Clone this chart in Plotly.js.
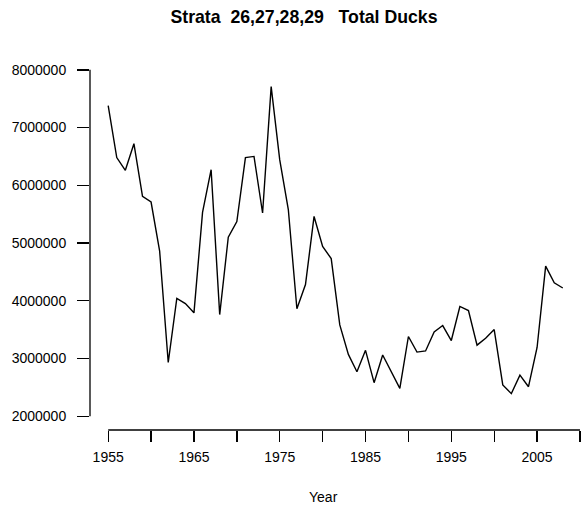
<!DOCTYPE html>
<html>
<head>
<meta charset="utf-8">
<script src="https://cdn.plot.ly/plotly-3.0.1.min.js"></script>
<style>html,body{margin:0;padding:0;background:#fff;}#chart{width:581px;height:512px;}</style>
</head>
<body>
<div id="chart"></div>
<script>
var years = [1955,1956,1957,1958,1959,1960,1961,1962,1963,1964,1965,1966,1967,1968,1969,1970,1971,1972,1973,1974,1975,1976,1977,1978,1979,1980,1981,1982,1983,1984,1985,1986,1987,1988,1989,1990,1991,1992,1993,1994,1995,1996,1997,1998,1999,2000,2001,2002,2003,2004,2005,2006,2007,2008];
var totalDucks = [7380000,6480000,6260000,6720000,5810000,5710000,4860000,2930000,4040000,3950000,3790000,5530000,6270000,3760000,5100000,5370000,6480000,6500000,5520000,7710000,6440000,5580000,3860000,4280000,5460000,4940000,4730000,3580000,3070000,2770000,3140000,2580000,3060000,2760000,2480000,3380000,3110000,3130000,3460000,3570000,3310000,3900000,3830000,3230000,3350000,3500000,2540000,2390000,2710000,2510000,3190000,4600000,4310000,4220000];
var xTickVals = [1955,1960,1965,1970,1975,1980,1985,1990,1995,2000,2005,2010];
var xTickText = ['1955','','1965','','1975','','1985','','1995','','2005',''];
var yTickVals = [2000000,3000000,4000000,5000000,6000000,7000000,8000000];
var yTickText = ['2000000','3000000','4000000','5000000','6000000','7000000','8000000'];

var font = "Arial, 'Liberation Sans', Helvetica, sans-serif";
var trace = {
  x: years, y: totalDucks, type: 'scatter', mode: 'lines',
  line: {color: '#000000', width: 1.4}, hoverinfo: 'x+y'
};
var layout = {
  width: 581, height: 512,
  margin: {l: 90, r: 0, t: 56, b: 82},
  paper_bgcolor: '#ffffff', plot_bgcolor: '#ffffff',
  showlegend: false,
  font: {family: font, color: '#000000', size: 13},
  title: {text: '<b>Strata  26,27,28,29   Total Ducks</b>', font: {family: font, size: 17.7, color: '#000000'},
          x: 304/581, xanchor: 'center', xref: 'container', y: 1 - 17/512, yanchor: 'middle', yref: 'container'},
  xaxis: {
    range: [1952.88, 2010.12], showgrid: false, zeroline: false, showline: false,
    tickmode: 'array', tickvals: xTickVals, ticktext: xTickText,
    ticks: 'outside', ticklen: 11, tickwidth: 1.3, tickcolor: '#000000',
    ticklabelstandoff: 3, tickfont: {family: font, size: 14, color: '#000000'}
  },
  yaxis: {
    range: [1760000, 8240000], showgrid: false, zeroline: false, showline: false,
    tickmode: 'array', tickvals: yTickVals, ticktext: yTickText,
    ticks: 'outside', ticklen: 12, tickwidth: 1.3, tickcolor: '#000000',
    ticklabelstandoff: 8, tickfont: {family: font, size: 14, color: '#000000'}
  },
  shapes: [
    {type: 'line', xref: 'paper', yref: 'y', x0: 0, x1: 0, y0: yTickVals[0], y1: yTickVals[yTickVals.length-1], line: {color: '#000000', width: 1.3}},
    {type: 'line', xref: 'x', yref: 'paper', x0: xTickVals[0], x1: xTickVals[xTickVals.length-1], y0: 0, y1: 0, line: {color: '#000000', width: 1.3}}
  ],
  annotations: [
    {text: 'Year', xref: 'paper', yref: 'paper', x: (323-90)/491, y: -(497-430)/374, xanchor: 'center', yanchor: 'middle', showarrow: false, font: {family: font, size: 14, color: '#000000'}}
  ]
};
Plotly.newPlot('chart', [trace], layout, {displayModeBar: false, staticPlot: true});
</script>
</body>
</html>
